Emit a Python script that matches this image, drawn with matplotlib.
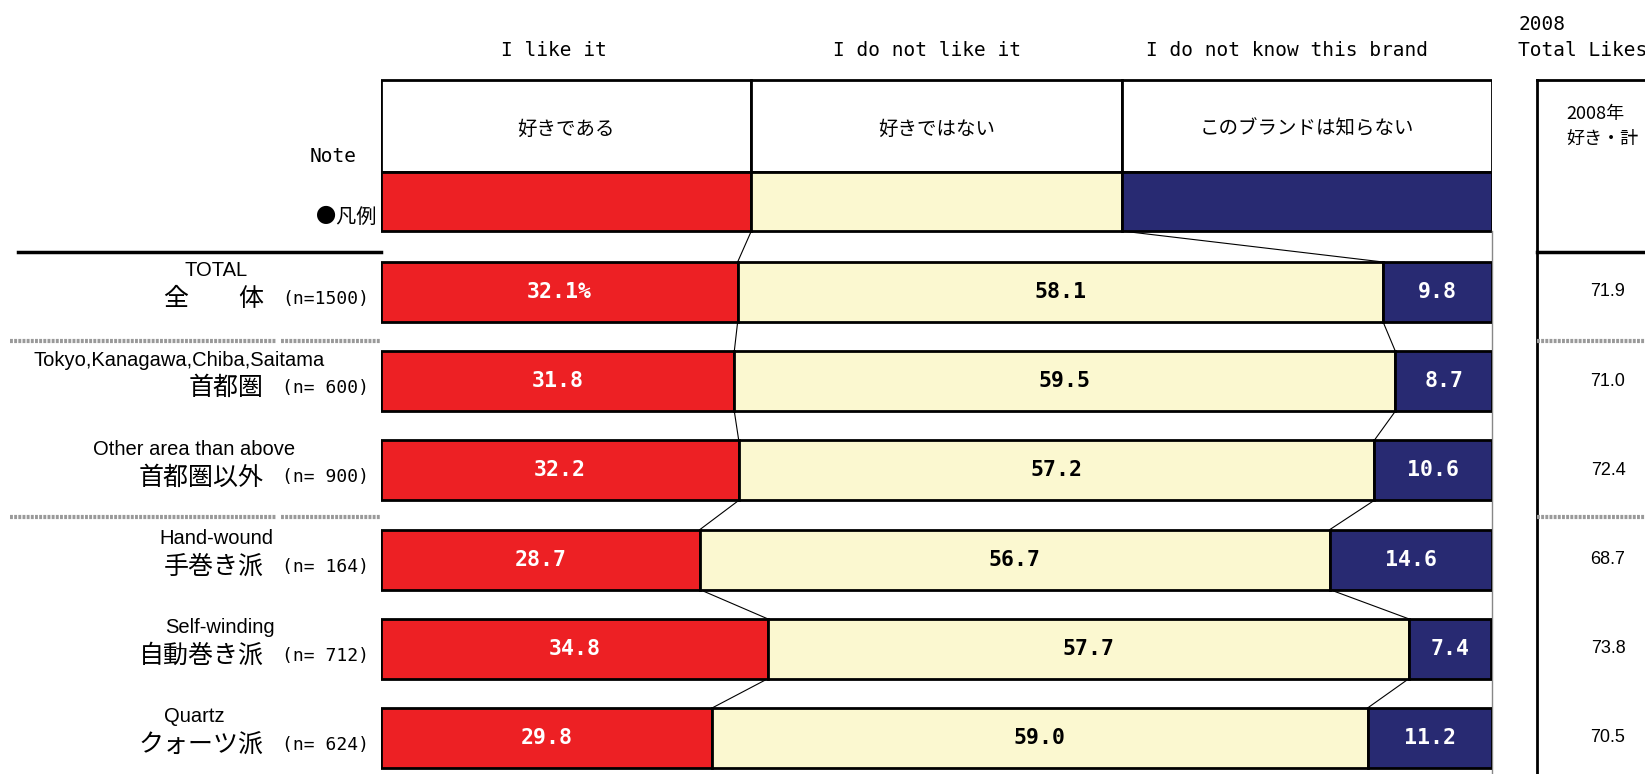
import matplotlib
matplotlib.use("Agg")
import matplotlib.pyplot as plt

plt.rcParams['font.family'] = ['Noto Sans CJK JP', 'DejaVu Sans']

# data
header_en = ["I like it", "I do not like it", "I do not know this brand"]
header_jp = ["好きである", "好きではない", "このブランドは知らない"]
row_en = ["TOTAL", "Tokyo,Kanagawa,Chiba,Saitama", "Other area than above",
          "Hand-wound", "Self-winding", "Quartz"]
row_jp = ["全　　体", "首都圏", "首都圏以外", "手巻き派", "自動巻き派", "クォーツ派"]
row_n = [1500, 600, 900, 164, 712, 624]
like = [32.1, 31.8, 32.2, 28.7, 34.8, 29.8]
dislike = [58.1, 59.5, 57.2, 56.7, 57.7, 59.0]
unknown = [9.8, 8.7, 10.6, 14.6, 7.4, 11.2]
total_2008 = [71.9, 71.0, 72.4, 68.7, 73.8, 70.5]

colors = ['#ED2024', '#FBF8D0', '#282A72']
text_colors = ['white', 'black', 'white']

W, H = 1645, 774
fig = plt.figure(figsize=(W / 100, H / 100), dpi=100)

# full-figure axis in pixels for labels / frames
ax = fig.add_axes([0, 0, 1, 1])
ax.set_xlim(0, W)
ax.set_ylim(H, 0)
ax.axis('off')

# bar axis: x in percent, y in pixels
x0, x1 = 381, 1492
bx = fig.add_axes([x0 / W, 0, (x1 - x0) / W, 1])
bx.set_xlim(0, 100)
bx.set_ylim(H, 0)
bx.axis('off')

bar_h = 60
y_first = 292
step = 89.2
ys = [y_first + step * i for i in range(len(like))]

mono = 'DejaVu Sans Mono'

# header / legend box
hdr_top, hdr_mid, hdr_bot = 80, 172, 231
thirds = [0, 100 / 3, 200 / 3]
for j in range(3):
    bx.barh((hdr_top + hdr_mid) / 2, 100 / 3, left=thirds[j], height=hdr_mid - hdr_top,
            color='white', edgecolor='black', lw=2)
    bx.barh((hdr_mid + hdr_bot) / 2, 100 / 3, left=thirds[j], height=hdr_bot - hdr_mid,
            color=colors[j], edgecolor='black', lw=2)
    bx.text(thirds[j] + 100 / 6, 129, header_jp[j], ha='center', va='center', fontsize=14)

for lab, xc in zip(header_en, [554, 927, 1287]):
    ax.text(xc, 50, lab, ha='center', va='center', fontsize=14, family=mono)

ax.text(357, 157, "Note", ha='right', va='center', fontsize=14, family=mono)
ax.text(376, 217, "●凡例", ha='right', va='center', fontsize=14.5)

# stacked bars
segs = [like, dislike, unknown]
for i, yc in enumerate(ys):
    left = 0
    for j in range(3):
        v = segs[j][i]
        bx.barh(yc, v, left=left, height=bar_h, color=colors[j], edgecolor='black', lw=2, zorder=3)
        s = f"{v:.1f}%" if (i == 0 and j == 0) else f"{v:.1f}"
        bx.text(left + v / 2, yc, s, ha='center', va='center', fontsize=15.5,
                fontweight='bold', family=mono, color=text_colors[j], zorder=4)
        left += v

# connector lines
cum1 = like
cum2 = [a + b for a, b in zip(like, dislike)]
bx.plot([100 / 3, cum1[0]], [hdr_bot, ys[0] - bar_h / 2], color='black', lw=0.8, zorder=2)
bx.plot([200 / 3, cum2[0]], [hdr_bot, ys[0] - bar_h / 2], color='black', lw=0.8, zorder=2)
for i in range(len(ys) - 1):
    bx.plot([cum1[i], cum1[i + 1]], [ys[i] + bar_h / 2, ys[i + 1] - bar_h / 2], color='black', lw=0.8, zorder=2)
    bx.plot([cum2[i], cum2[i + 1]], [ys[i] + bar_h / 2, ys[i + 1] - bar_h / 2], color='black', lw=0.8, zorder=2)

# right border of plot area
bx.plot([100, 100], [hdr_bot, H], color='#888888', lw=1, zorder=1, clip_on=False)

# row labels
en_x = [216, 179, 194, 216, 220, 194]
for i, yc in enumerate(ys):
    ax.text(en_x[i], yc - 21, row_en[i], ha='center', va='center', fontsize=14.5,
            family='Liberation Sans')
    ax.text(264, yc + 7, row_jp[i], ha='right', va='center', fontsize=18)
    ax.text(369, yc + 7, f"(n={row_n[i]:>4})", ha='right', va='center', fontsize=13, family=mono)

# separators on the left
ax.plot([18, 381], [252, 252], color='black', lw=2.5)
dot = dict(color='#9a9a9a', lw=3, linestyle=(0, (0.7, 0.3)))
for yy in [341, 517]:
    ax.plot([10, 276], [yy, yy], **dot)
    ax.plot([281, 381], [yy, yy], **dot)

# right panel
ax.text(1518, 24, "2008", ha='left', va='center', fontsize=14, family=mono)
ax.text(1518, 50, "Total Likes", ha='left', va='center', fontsize=14, family=mono)
ax.plot([1537, 1537], [80, H], color='black', lw=2)
ax.plot([1537, W], [80, 80], color='black', lw=2)
ax.plot([1537, W], [252, 252], color='black', lw=2.5)
for yy in [341, 517]:
    ax.plot([1537, W], [yy, yy], **dot)
ax.text(1566, 114, "2008年", ha='left', va='center', fontsize=13)
ax.text(1566, 139, "好き・計", ha='left', va='center', fontsize=13)
for yc, v in zip(ys, total_2008):
    ax.text(1608, yc, f"{v:.1f}", ha='center', va='center', fontsize=13, family='Liberation Sans')

fig.savefig("out.png", dpi=100)
